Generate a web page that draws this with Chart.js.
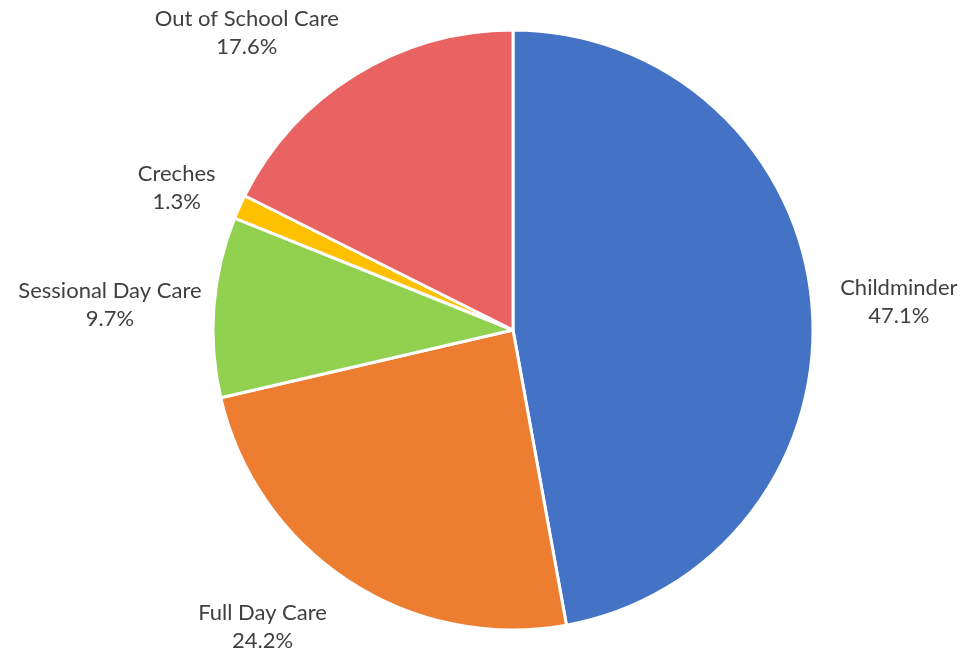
<!DOCTYPE html>
<html>
<head>
<meta charset="utf-8">
<script src="https://cdn.jsdelivr.net/npm/chart.js@4/dist/chart.umd.min.js"></script>
<style>
  html, body { margin: 0; padding: 0; background: #ffffff; }
  #wrap { width: 979px; height: 652px; position: relative; }
</style>
</head>
<body>
<div id="wrap"><canvas id="chart"></canvas></div>
<script>
// Childcare places by provider type (share of total, %)
const categories = ['Childminder', 'Full Day Care', 'Sessional Day Care', 'Creches', 'Out of School Care'];
const shares = [47.1, 24.2, 9.7, 1.3, 17.6];
const sliceColors = ['#4472C4', '#ED7D31', '#92D050', '#FFC000', '#EA6363'];

// Outside-end label placement: angular nudge (degrees) and distance beyond the rim
const labelNudge = [0.7, 7, -0.5, -1, -10];
const labelGap = [87, 87, 104, 66, 100];

const outsideLabels = {
  id: 'outsideLabels',
  afterDatasetsDraw(chart) {
    const ctx = chart.ctx;
    const meta = chart.getDatasetMeta(0);
    ctx.save();
    ctx.font = '22px Lato, "Open Sans", sans-serif';
    ctx.fillStyle = '#404040';
    ctx.textAlign = 'center';
    ctx.textBaseline = 'middle';
    meta.data.forEach((arc, i) => {
      const p = arc.getProps(['x', 'y', 'startAngle', 'endAngle', 'outerRadius'], true);
      const mid = (p.startAngle + p.endAngle) / 2 + labelNudge[i] * Math.PI / 180;
      const r = p.outerRadius + labelGap[i];
      const cx = p.x + Math.cos(mid) * r;
      const cy = p.y + Math.sin(mid) * r;
      ctx.fillText(categories[i], cx, cy - 12);
      ctx.fillText(shares[i].toFixed(1) + '%', cx, cy + 16);
    });
    ctx.restore();
  }
};

new Chart(document.getElementById('chart'), {
  type: 'pie',
  data: {
    labels: categories,
    datasets: [{
      data: shares,
      backgroundColor: sliceColors,
      borderColor: '#ffffff',
      borderWidth: 3,
      radius: 300
    }]
  },
  options: {
    responsive: true,
    maintainAspectRatio: false,
    animation: false,
    layout: { padding: { left: 47, top: 8, right: 0, bottom: 0 } },
    plugins: {
      legend: { display: false },
      tooltip: { enabled: false }
    }
  },
  plugins: [outsideLabels]
});
</script>
</body>
</html>
